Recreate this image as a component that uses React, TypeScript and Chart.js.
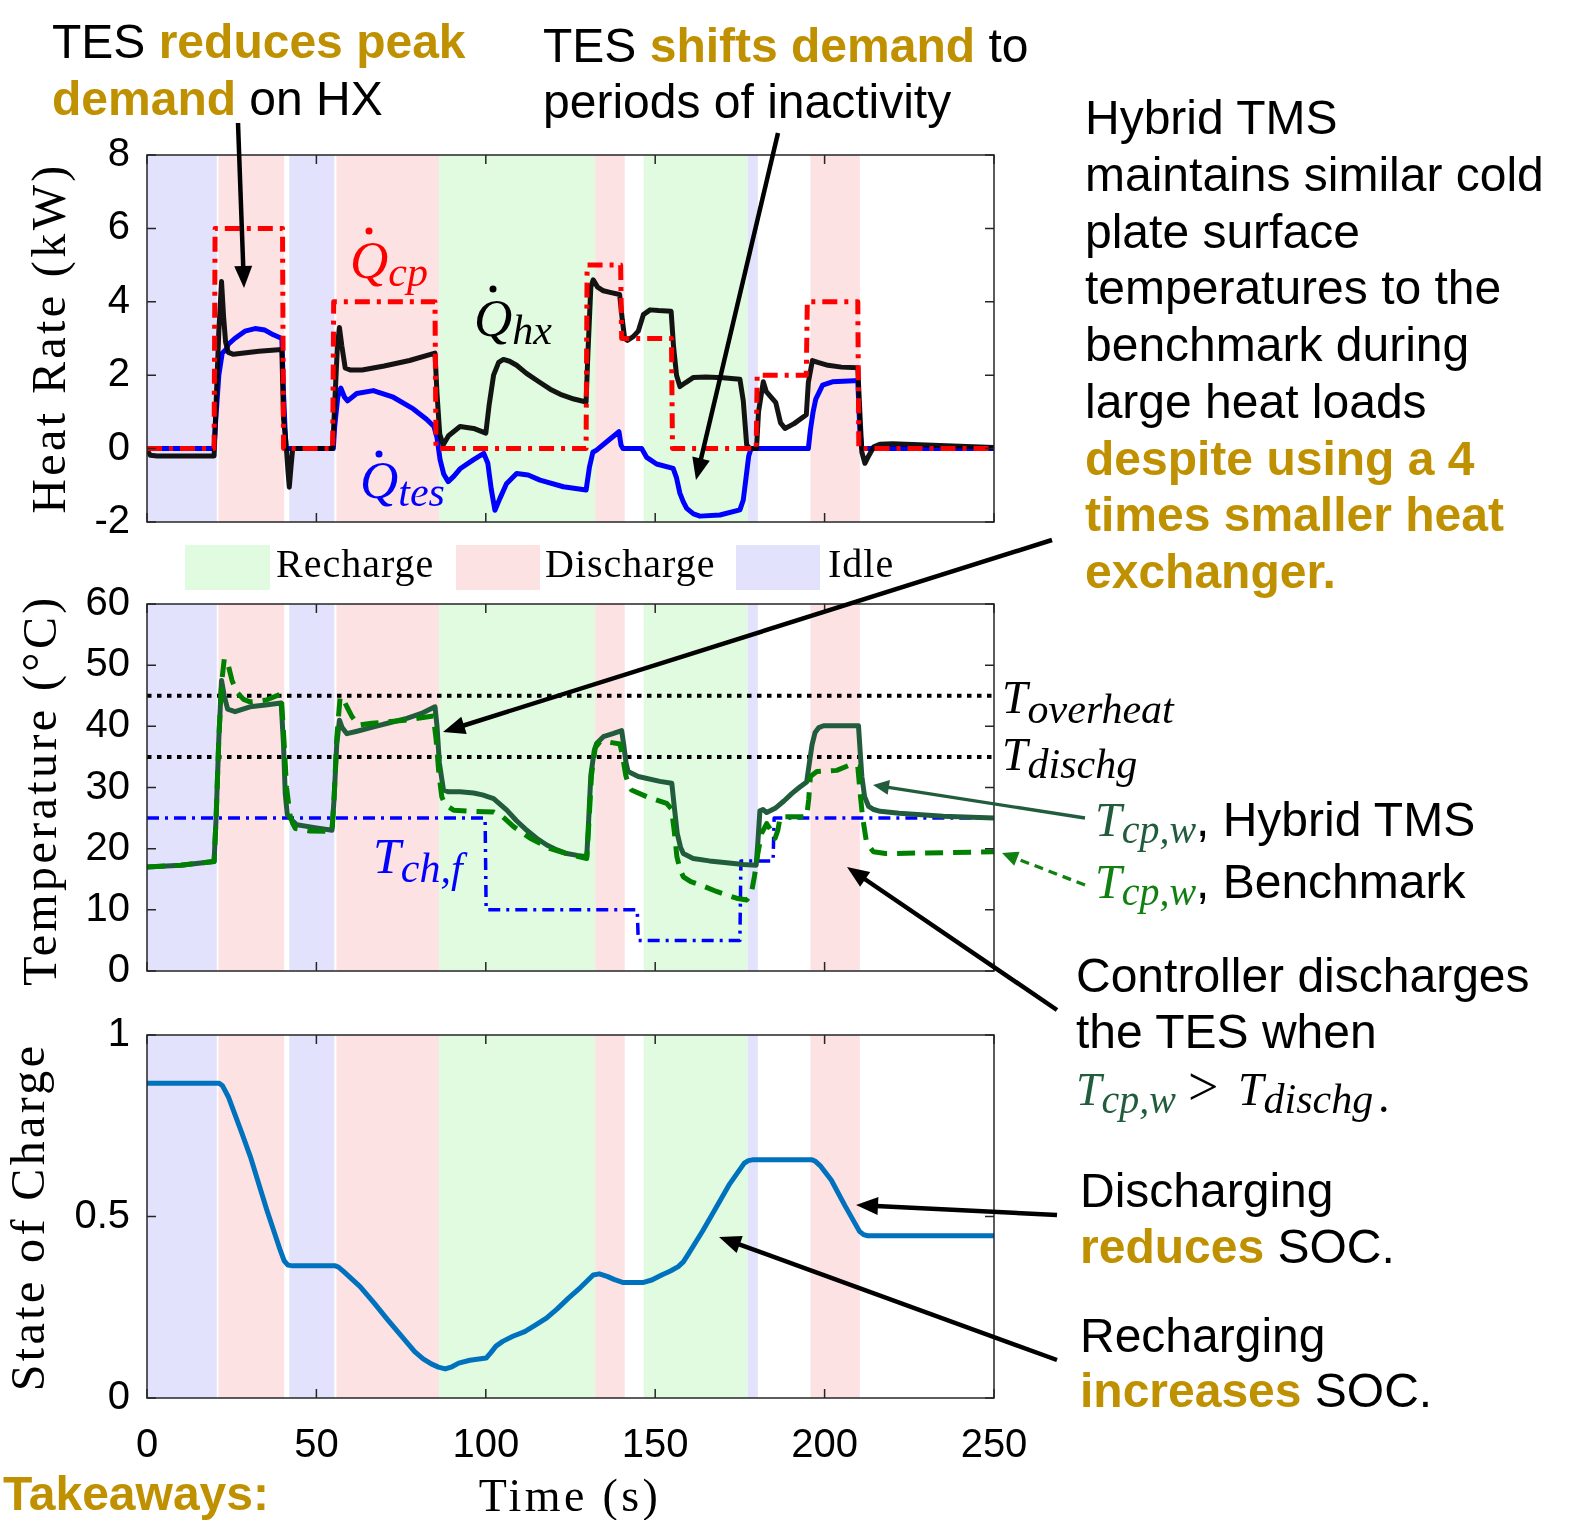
import React, { useEffect, useRef } from "react";
import { Chart, registerables } from "chart.js";
Chart.register(...registerables);

// ---------- ticks ----------
const xTicks = [0, 50, 100, 150, 200, 250];
const heatTicks = [-2, 0, 2, 4, 6, 8];
const tempTicks = [0, 10, 20, 30, 40, 50, 60];
const socTicks = [0, 0.5, 1];

// ---------- operating-mode bands (s) ----------
const bandStart = [0, 21.1, 42.0, 55.9, 86.2, 132.3, 146.6, 177.3, 195.8];
const bandEnd = [20.6, 40.5, 55.3, 86.2, 132.3, 141.0, 177.3, 180.3, 210.4];
const bandMode = ["Idle", "Discharge", "Idle", "Discharge", "Recharge", "Discharge", "Recharge", "Idle", "Discharge"];
const modeColor: Record<string, string> = { Recharge: "#E1FBE1", Discharge: "#FDE2E4", Idle: "#E2E2FC" };

// ---------- Heat rate (kW) ----------
const qcpT = [0, 19.8, 20.1, 40.0, 40.3, 54.8, 55.1, 85.0, 85.3, 129.6, 129.9, 139.8, 140.1, 154.8, 155.1, 179.8, 180.1, 194.6, 194.9, 209.8, 210.1, 250];
const qcpV = [0, 0, 6, 6, 0, 0, 4, 4, 0, 0, 5, 5, 3, 3, 0, 0, 2, 2, 4, 4, 0, 0];

const qhxT = [0, 1, 3, 10, 19.8, 20.3, 21.2, 22.0, 22.6, 23.2, 24.0, 25.5, 28, 33, 39.8, 40.3, 41.0, 41.6, 42.0, 42.5, 43, 54.8, 55.3, 56.2, 56.8, 57.5, 58.5, 60, 63.5, 70, 77.5, 85.0, 85.6, 86.4, 87.4, 89, 92.4, 96.4, 100.0, 101.0, 102.3, 103.8, 105.2, 107, 109.1, 112, 116, 119, 122, 126, 129.6, 130.1, 131.0, 131.7, 133.0, 134.7, 137, 139.5, 140.3, 141.0, 141.8, 143.5, 145, 146.5, 148.5, 151, 154.7, 155.4, 156.3, 157.3, 159, 161.3, 165, 170, 175, 176, 177, 178, 179.9, 180.5, 181.9, 182.8, 184, 185.6, 187.0, 188.3, 191, 194.6, 195.2, 196.4, 198, 201, 205, 209.8, 210.4, 211.0, 211.9, 213, 214.5, 216.3, 220, 230, 250];
const qhxV = [-0.05, -0.18, -0.2, -0.2, -0.2, 1.0, 3.2, 4.55, 3.6, 2.9, 2.62, 2.57, 2.6, 2.65, 2.7, 0.8, 0.2, -0.6, -1.05, -0.5, 0.0, 0.0, 1.0, 2.8, 3.3, 2.8, 2.2, 2.14, 2.14, 2.25, 2.4, 2.6, 1.5, 0.4, 0.1, 0.35, 0.6, 0.55, 0.42, 1.2, 2.0, 2.35, 2.43, 2.38, 2.27, 2.05, 1.8, 1.62, 1.48, 1.35, 1.27, 2.5, 4.4, 4.6, 4.4, 4.3, 4.25, 4.2, 3.5, 3.0, 2.95, 3.05, 3.2, 3.65, 3.78, 3.76, 3.74, 2.8, 2.0, 1.69, 1.8, 1.94, 1.95, 1.93, 1.89, 1.3, 0.1, 0, 0, 1.0, 1.82, 1.55, 1.42, 1.25, 0.7, 0.55, 0.68, 0.92, 1.8, 2.4, 2.35, 2.27, 2.22, 2.2, 1.0, -0.1, -0.4, -0.2, 0.05, 0.12, 0.13, 0.1, 0.03];

const qtesT = [0, 19.8, 20.3, 21.2, 22.2, 23.3, 24.1, 25.9, 28.9, 31.9, 34.8, 37.3, 39.8, 40.3, 41.0, 55.0, 55.4, 56.3, 57.2, 58.3, 59.2, 61.9, 66.8, 72.7, 78.6, 82.5, 84.7, 85.6, 86.5, 87.6, 88.9, 90.6, 92.4, 96.4, 99.4, 100.6, 101.6, 102.7, 104.2, 106.1, 109.1, 112.5, 116, 122.9, 129.6, 130.6, 131.6, 132.7, 135.6, 139.3, 139.9, 140.5, 146.0, 147.5, 150.4, 155.3, 156.3, 157.3, 158.3, 159.3, 161.3, 163.2, 169.1, 175.0, 176.0, 176.8, 177.6, 178.3, 195.2, 195.8, 196.6, 197.4, 199.4, 202.3, 208.7, 209.8, 210.4, 211.0, 250];
const qtesV = [0, 0, 0.8, 2.0, 2.6, 2.7, 2.85, 3.0, 3.2, 3.27, 3.23, 3.1, 3.0, 1.5, 0, 0, 0.6, 1.4, 1.65, 1.4, 1.3, 1.5, 1.58, 1.4, 1.08, 0.8, 0.6, 0.3, -0.3, -0.7, -0.9, -0.75, -0.55, -0.3, -0.13, -0.4, -1.1, -1.68, -1.35, -0.96, -0.68, -0.72, -0.86, -1.04, -1.13, -0.5, -0.1, -0.04, 0.18, 0.46, 0.1, 0, 0, -0.24, -0.42, -0.54, -0.8, -1.22, -1.45, -1.63, -1.78, -1.84, -1.81, -1.67, -1.4, -0.8, -0.2, 0, 0, 0.5, 1.0, 1.35, 1.73, 1.82, 1.85, 1.85, 0.5, 0, 0];

// ---------- Temperature (°C) ----------
const thrT = [0, 250];
const overheatV = [45, 45];
const dischgV = [35, 35];

const tchT = [0, 99.8, 100.1, 144.7, 145.0, 175.0, 175.3, 184.8, 185.1, 250];
const tchV = [25, 25, 10, 10, 5, 5, 18, 18, 25, 25];

const hybT = [0, 10, 19.8, 20.4, 21.2, 22.0, 22.8, 23.8, 26, 30.4, 35, 39.6, 40.3, 40.8, 41.4, 42.5, 44.2, 50, 54.6, 55.2, 56.0, 56.8, 57.6, 59, 62, 66.9, 71, 76.7, 81, 85.0, 85.6, 86.3, 87.5, 89, 92.4, 96.4, 99, 102.3, 106.2, 109, 112.1, 115, 118, 121, 123.9, 127, 129.8, 130.3, 131.0, 132.0, 132.7, 134.7, 137.5, 140.1, 140.7, 141.4, 142.0, 145.0, 151.4, 154.9, 155.6, 156.5, 157.5, 158.3, 161.2, 166, 171.1, 176, 179.8, 180.3, 180.9, 181.8, 182.9, 185.4, 188, 190.3, 192.5, 194.7, 195.5, 196.3, 197.2, 198.3, 199.7, 203, 207, 210.0, 210.6, 211.0, 211.8, 213.0, 214.5, 216.4, 222, 235, 250];
const hybV = [17, 17.3, 17.9, 25, 38, 47.5, 45, 42.8, 42.4, 43.2, 43.5, 43.8, 37, 29, 25.6, 24.8, 23.9, 23.4, 23.0, 28, 37, 41.0, 39.8, 38.8, 39.2, 39.9, 40.5, 41.3, 42.1, 43.2, 40, 34, 29.6, 29.3, 29.3, 29.1, 28.8, 28.2, 26.3, 24.6, 23.0, 21.7, 20.6, 19.8, 19.2, 18.9, 18.7, 24, 32, 36, 37.2, 38.3, 38.8, 39.3, 37, 34, 32.6, 31.8, 31.0, 30.7, 27, 22.5, 20.2, 19.2, 18.4, 18.0, 17.7, 17.4, 17.3, 21, 26.2, 26.4, 25.9, 26.6, 27.8, 29.0, 30.0, 30.9, 34, 37, 39.0, 39.8, 40.1, 40.1, 40.1, 40.1, 35, 31.8, 28.5, 26.9, 26.4, 26.1, 25.8, 25.3, 25.0];

const benT = [0, 10, 19.8, 20.4, 21.2, 22.0, 22.8, 23.6, 25.1, 26.5, 28.5, 30.4, 35.2, 39.6, 40.4, 41.2, 42.2, 43.0, 43.8, 48, 54.6, 55.2, 56.0, 57.0, 57.8, 59.0, 60.5, 62.4, 66.3, 72, 76.2, 84.5, 85.3, 86.2, 87.0, 88.0, 90.5, 96.4, 102.3, 105, 108.2, 113.1, 119, 124.9, 129.8, 130.4, 131.2, 132.3, 133.7, 136.5, 139.6, 140.4, 141.3, 142.2, 143.0, 147.5, 153.4, 154.8, 155.6, 156.4, 157.4, 158.3, 160.5, 163.2, 168.1, 174, 177, 178.3, 179.3, 180.3, 181.4, 182.9, 184.2, 185.4, 186.2, 186.9, 190.3, 194.7, 195.3, 195.8, 197.7, 203.6, 207.5, 209.8, 210.5, 211.2, 212.4, 214.4, 218, 230, 250];
const benV = [17, 17.3, 17.9, 25, 38, 47, 51.0, 50.8, 47.5, 45.6, 44.4, 44.0, 44.3, 45.3, 38, 30, 25.5, 24.1, 23.3, 22.9, 22.8, 28, 38, 44.8, 44.6, 43.2, 41.6, 40.2, 40.5, 40.8, 41.0, 41.7, 38, 32, 28.5, 27.2, 26.3, 26.1, 26.0, 25.2, 23.6, 21.7, 20.0, 19.0, 18.4, 24, 32, 36.5, 37.5, 37.4, 37.1, 35, 32, 30.3, 29.6, 28.5, 27.4, 26.5, 23, 18.7, 16.5, 15.4, 14.6, 14.1, 13.0, 11.9, 11.6, 12.5, 15.5, 19.2, 22.5, 24.1, 23.0, 21.7, 23.0, 25.2, 25.2, 25.2, 28, 31.8, 32.6, 32.8, 33.7, 33.4, 29, 25.2, 20.9, 19.5, 19.2, 19.3, 19.5];

// ---------- State of charge ----------
const socT = [0, 21.3, 22.3, 24, 28, 30.5, 35.3, 39.4, 40.5, 41.6, 43, 55.6, 56.6, 58, 62.9, 67, 71, 75, 79, 81.5, 83.9, 86, 88, 90, 92, 95.3, 100.1, 101.5, 103, 105, 108, 111.5, 114.5, 117.9, 121, 124.4, 128, 131.7, 133.5, 135.8, 138, 140.6, 146.3, 149, 151.9, 154.5, 156.8, 158.3, 160, 164, 168.2, 172, 176.3, 177.5, 178.7, 196.3, 197.3, 198.9, 202, 206, 210.3, 211.5, 212.7, 220, 250];
const socV = [0.867, 0.867, 0.86, 0.83, 0.73, 0.665, 0.52, 0.405, 0.378, 0.366, 0.364, 0.364, 0.36, 0.349, 0.307, 0.262, 0.216, 0.172, 0.128, 0.108, 0.094, 0.085, 0.08, 0.086, 0.096, 0.104, 0.11, 0.125, 0.143, 0.156, 0.17, 0.183, 0.2, 0.22, 0.245, 0.275, 0.305, 0.339, 0.342, 0.335, 0.326, 0.318, 0.318, 0.325, 0.339, 0.35, 0.362, 0.375, 0.4, 0.46, 0.528, 0.59, 0.647, 0.654, 0.656, 0.656, 0.652, 0.638, 0.6, 0.53, 0.459, 0.45, 0.447, 0.447, 0.447];

// ---------- helpers ----------
const SANS = "'Liberation Sans', Arial, sans-serif";
const SERIF = "'Liberation Serif', 'Times New Roman', serif";
const GOLD = "#BF9000";
const DKGREEN = "#215C3C";
const BENCHGREEN = "#118011";

const pts = (t: number[], v: number[]) => t.map((x, i) => ({ x, y: v[i] }));

const line = (t: number[], v: number[], color: string, width: number, dash: number[] = []) => ({
  data: pts(t, v),
  borderColor: color,
  borderWidth: width,
  borderDash: dash,
  pointRadius: 0,
  fill: false,
  tension: 0,
  borderJoinStyle: "round",
  borderCapStyle: "butt",
});

const bandPlugin = {
  id: "bands",
  beforeDatasetsDraw(chart: any) {
    const { ctx, chartArea: a, scales } = chart;
    const x = scales.x;
    ctx.save();
    bandStart.forEach((s, i) => {
      const x0 = x.getPixelForValue(s);
      const x1 = x.getPixelForValue(bandEnd[i]);
      ctx.fillStyle = modeColor[bandMode[i]];
      ctx.fillRect(x0, a.top, x1 - x0, a.bottom - a.top);
    });
    ctx.restore();
  },
};

const framePlugin = {
  id: "frame",
  afterDatasetsDraw(chart: any) {
    const { ctx, chartArea: a, scales } = chart;
    const x = scales.x, y = scales.y;
    const L = 9;
    ctx.save();
    ctx.strokeStyle = "#262626";
    ctx.lineWidth = 1.5;
    ctx.strokeRect(a.left, a.top, a.right - a.left, a.bottom - a.top);
    ctx.beginPath();
    xTicks.forEach((v) => {
      const px = x.getPixelForValue(v);
      ctx.moveTo(px, a.bottom); ctx.lineTo(px, a.bottom - L);
      ctx.moveTo(px, a.top); ctx.lineTo(px, a.top + L);
    });
    y.ticks.forEach((t: any) => {
      const py = y.getPixelForValue(t.value);
      ctx.moveTo(a.left, py); ctx.lineTo(a.left + L, py);
      ctx.moveTo(a.right, py); ctx.lineTo(a.right - L, py);
    });
    ctx.stroke();
    ctx.restore();
  },
};

type PanelProps = {
  plotTop: number; plotH: number; xH: number; showX: boolean;
  yMin: number; yMax: number; yTicks: number[]; makeDatasets: () => any[];
};

const CW = 1054;      // canvas width
const PAD_TOP = 42;   // room above the plot area
const PAD_RIGHT = 60; // plot right edge at 994

function Panel({ plotTop, plotH, xH, showX, yMin, yMax, yTicks, makeDatasets }: PanelProps) {
  const ref = useRef<HTMLCanvasElement>(null);
  const height = PAD_TOP + plotH + xH;
  const top = plotTop - PAD_TOP;
  useEffect(() => {
    const tickFont = { family: SANS, size: 40 };
    const chart = new Chart(ref.current as HTMLCanvasElement, {
      type: "line",
      data: { datasets: makeDatasets() },
      options: {
        animation: false,
        responsive: false,
        events: [],
        layout: { padding: { top: PAD_TOP, right: PAD_RIGHT, left: 0, bottom: 0 } },
        plugins: { legend: { display: false }, tooltip: { enabled: false } },
        scales: {
          x: {
            type: "linear", min: 0, max: 250,
            afterBuildTicks: (s: any) => { s.ticks = xTicks.map((v) => ({ value: v })); },
            ticks: { display: showX, font: tickFont, color: "#000", padding: 24, maxRotation: 0, callback: (v: any) => String(v) },
            grid: { display: false, drawTicks: false },
            border: { display: false },
            afterFit: (s: any) => { s.height = xH; },
          },
          y: {
            type: "linear", min: yMin, max: yMax,
            afterBuildTicks: (s: any) => { s.ticks = yTicks.map((v) => ({ value: v })); },
            ticks: { font: tickFont, color: "#000", padding: 17, callback: (v: any) => String(v) },
            grid: { display: false, drawTicks: false },
            border: { display: false },
            afterFit: (s: any) => { s.width = 147; },
          },
        },
      } as any,
      plugins: [bandPlugin, framePlugin],
    });
    return () => chart.destroy();
  }, []);
  return (
    <canvas ref={ref} width={CW} height={height}
      style={{ position: "absolute", left: 0, top, width: CW, height }} />
  );
}

function Arrow({ x1, y1, x2, y2, color = "#000", w = 4.5, hl = 22, hw = 9, dash }:
  { x1: number; y1: number; x2: number; y2: number; color?: string; w?: number; hl?: number; hw?: number; dash?: string }) {
  const dx = x2 - x1, dy = y2 - y1, L = Math.hypot(dx, dy), ux = dx / L, uy = dy / L;
  const bx = x2 - ux * hl, by = y2 - uy * hl;
  const p = `${x2},${y2} ${bx - uy * hw},${by + ux * hw} ${bx + uy * hw},${by - ux * hw}`;
  return (
    <g>
      <line x1={x1} y1={y1} x2={bx + ux * 2} y2={by + uy * 2} stroke={color} strokeWidth={w} strokeDasharray={dash} />
      <polygon points={p} fill={color} />
    </g>
  );
}

type Seg = [string, boolean?];
function Block({ x, y0, dy, lines, size = 48 }: { x: number; y0: number; dy: number; lines: Seg[][]; size?: number }) {
  return (
    <g fontFamily={SANS} fontSize={size} style={{ whiteSpace: "pre" }}>
      {lines.map((segs, i) => (
        <text key={i} x={x} y={y0 + i * dy} fill="#000">
          {segs.map(([t, g], j) => (
            <tspan key={j} fill={g ? GOLD : "#000"} fontWeight={g ? "bold" : "normal"}>{t}</tspan>
          ))}
        </text>
      ))}
    </g>
  );
}

function MathSym({ x, y, main, sub, color, size = 46, subSize = 41, drop = 9 }:
  { x: number; y: number; main: string; sub: string; color: string; size?: number; subSize?: number; drop?: number }) {
  return (
    <text x={x} y={y} fontFamily={SERIF} fontStyle="italic" fontSize={size} fill={color}>
      {main}<tspan fontSize={subSize} dy={drop}>{sub}</tspan>
    </text>
  );
}

export default function App() {
  return (
    <div style={{ position: "absolute", left: 0, top: 0, width: 1588, height: 1520, background: "#fff", overflow: "hidden" }}>
      <Panel plotTop={155} plotH={367} xH={42} showX={false} yMin={-2} yMax={8} yTicks={heatTicks}
        makeDatasets={() => [
          line(qcpT, qcpV, "#FF0000", 5, [15, 7, 4, 7]),
          line(qhxT, qhxV, "rgba(0,0,0,0.92)", 5),
          line(qtesT, qtesV, "#0000FF", 5),
        ]} />
      <Panel plotTop={604} plotH={367} xH={42} showX={false} yMin={0} yMax={60} yTicks={tempTicks}
        makeDatasets={() => [
          line(benT, benV, "#008000", 5, [18, 10]),
          line(hybT, hybV, DKGREEN, 5),
          line(tchT, tchV, "#0000FF", 3.5, [12, 6, 3, 6]),
          line(thrT, overheatV, "#000", 4, [4.5, 5.5]),
          line(thrT, dischgV, "#000", 4, [4.5, 5.5]),
        ]} />
      <Panel plotTop={1035} plotH={363} xH={80} showX={true} yMin={0} yMax={1} yTicks={socTicks}
        makeDatasets={() => [line(socT, socV, "#0072BD", 5)]} />

      <svg width={1588} height={1520} style={{ position: "absolute", left: 0, top: 0, pointerEvents: "none" }}>
        {/* axis titles */}
        <g fontFamily={SERIF} fontSize={48} fill="#000" style={{ letterSpacing: "3.4px" }} textAnchor="middle">
          <text transform="translate(65,338) rotate(-90)">Heat Rate (kW)</text>
          <text transform="translate(56,790) rotate(-90)">Temperature (°C)</text>
          <text transform="translate(44,1217) rotate(-90)">State of Charge</text>
          <text x={570} y={1511} fontSize={46}>Time (s)</text>
        </g>

        {/* legend */}
        <rect x={185} y={545} width={85} height={45} fill={modeColor.Recharge} />
        <rect x={456} y={545} width={84} height={45} fill={modeColor.Discharge} />
        <rect x={736} y={545} width={84} height={45} fill={modeColor.Idle} />
        <g fontFamily={SERIF} fontSize={40} fill="#000" style={{ letterSpacing: "1px" }}>
          <text x={276} y={577}>Recharge</text>
          <text x={545} y={577}>Discharge</text>
          <text x={828} y={577}>Idle</text>
        </g>

        {/* series labels */}
        <MathSym x={350} y={278} main="Q" sub="cp" color="#FF0000" size={53} subSize={42} drop={8} />
        <circle cx={369} cy={231} r={3.5} fill="#FF0000" />
        <MathSym x={474} y={336} main="Q" sub="hx" color="#000" size={53} subSize={42} drop={8} />
        <circle cx={493} cy={289} r={3.5} fill="#000" />
        <MathSym x={360} y={498} main="Q" sub="tes" color="#0000FF" size={53} subSize={42} drop={8} />
        <circle cx={379} cy={454} r={3.5} fill="#0000FF" />
        <MathSym x={373} y={873} main="T" sub="ch,f" color="#0000FF" size={50} subSize={42} drop={9} />

        <MathSym x={1002} y={713} main="T" sub="overheat" color="#000" size={46} subSize={42} drop={10} />
        <MathSym x={1002} y={770} main="T" sub="dischg" color="#000" size={46} subSize={42} drop={8} />

        <MathSym x={1095} y={836} main="T" sub="cp,w" color={DKGREEN} size={48} subSize={40} drop={7} />
        <text x={1196} y={836} fontFamily={SANS} fontSize={48} fill="#000" style={{ whiteSpace: "pre" }}>, Hybrid TMS</text>
        <MathSym x={1095} y={898} main="T" sub="cp,w" color={BENCHGREEN} size={48} subSize={40} drop={7} />
        <text x={1196} y={898} fontFamily={SANS} fontSize={48} fill="#000" style={{ whiteSpace: "pre" }}>, Benchmark</text>

        {/* annotation blocks */}
        <Block x={52} y0={58} dy={57} lines={[[["TES "], ["reduces peak", true]], [["demand", true], [" on HX"]]]} />
        <Block x={543} y0={62} dy={56} lines={[[["TES "], ["shifts demand", true], [" to"]], [["periods of inactivity"]]]} />
        <Block x={1085} y0={134.3} dy={56.7} lines={[
          [["Hybrid TMS"]],
          [["maintains similar cold"]],
          [["plate surface"]],
          [["temperatures to the"]],
          [["benchmark during"]],
          [["large heat loads"]],
          [["despite using a 4", true]],
          [["times smaller heat", true]],
          [["exchanger.", true]],
        ]} />
        <Block x={1076} y0={991.7} dy={56.6} lines={[[["Controller discharges"]], [["the TES when"]]]} />
        <MathSym x={1076} y={1105} main="T" sub="cp,w" color={DKGREEN} size={46} subSize={40} drop={8} />
        <text x={1188} y={1105} fontFamily={SERIF} fontSize={54} fill="#000">&gt;</text>
        <MathSym x={1238} y={1105} main="T" sub="dischg" color="#000" size={46} subSize={42} drop={8} />
        <text x={1378} y={1112} fontFamily={SERIF} fontSize={46} fill="#000">.</text>
        <Block x={1080} y0={1206.7} dy={56.6} lines={[[["Discharging"]], [["reduces", true], [" SOC."]]]} />
        <Block x={1080} y0={1351.7} dy={55} lines={[[["Recharging"]], [["increases", true], [" SOC."]]]} />
        <text x={3} y={1510} fontFamily={SANS} fontSize={48} fontWeight="bold" fill={GOLD}>Takeaways:</text>

        {/* arrows */}
        <Arrow x1={238} y1={123} x2={244} y2={288} />
        <Arrow x1={778} y1={133} x2={696} y2={480} />
        <Arrow x1={1052} y1={540} x2={443} y2={732} />
        <Arrow x1={1085} y1={818} x2={873} y2={785} color={DKGREEN} w={3.3} hl={16} hw={7.5} />
        <Arrow x1={1085} y1={885} x2={1002} y2={853} color={BENCHGREEN} w={3.3} hl={16} hw={7.5} dash="9,6" />
        <Arrow x1={1057} y1={1010} x2={847} y2={867} />
        <Arrow x1={1057} y1={1215} x2={856} y2={1205} />
        <Arrow x1={1057} y1={1360} x2={719} y2={1237} />
      </svg>
    </div>
  );
}
